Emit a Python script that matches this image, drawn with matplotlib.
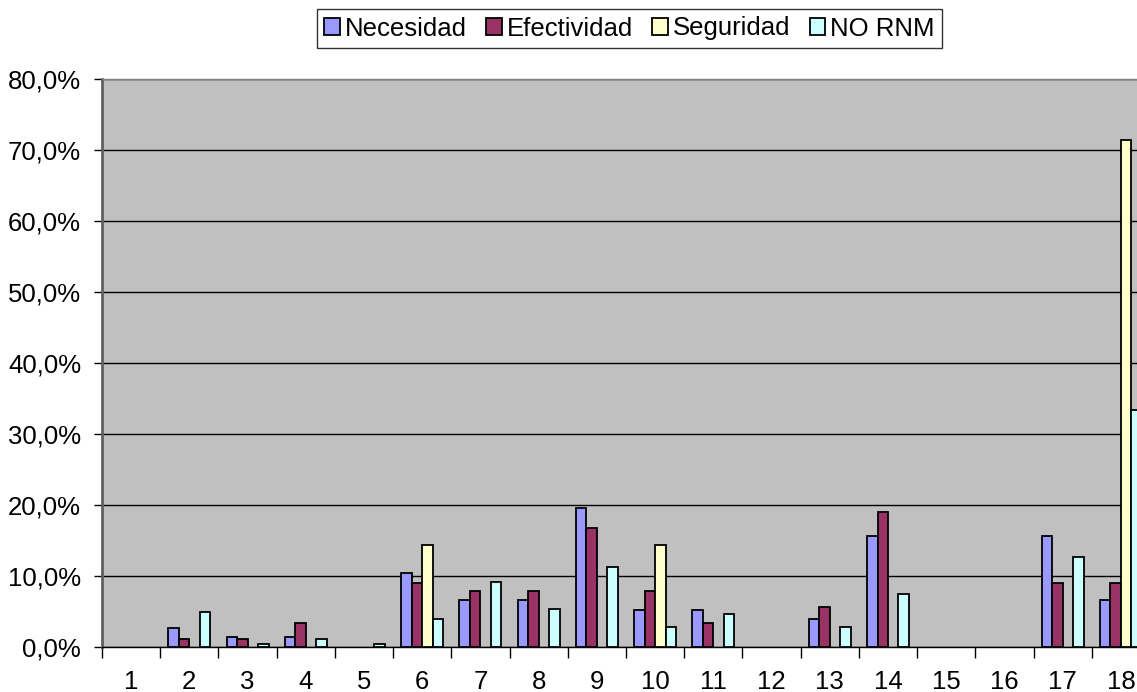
import matplotlib
matplotlib.use("Agg")
import matplotlib.pyplot as plt
import numpy as np
from matplotlib.ticker import FuncFormatter, FixedLocator

plt.rcParams['font.family'] = ['Liberation Sans', 'DejaVu Sans']

categories = [str(i) for i in range(1, 19)]
necesidad =   [0.0, 2.6, 1.3, 1.3, 0.0, 10.4, 6.5, 6.5, 19.5, 5.2, 5.2, 0.0, 3.9, 15.6, 0.0, 0.0, 15.6, 6.5]
efectividad = [0.0, 1.1, 1.1, 3.3, 0.0, 8.9, 7.8, 7.8, 16.7, 7.8, 3.3, 0.0, 5.6, 18.9, 0.0, 0.0, 8.9, 8.9]
seguridad =   [0.0, 0.0, 0.0, 0.0, 0.0, 14.3, 0.0, 0.0, 0.0, 14.3, 0.0, 0.0, 0.0, 0.0, 0.0, 0.0, 0.0, 71.4]
no_rnm =      [0.0, 4.9, 0.35, 1.1, 0.35, 3.9, 9.1, 5.3, 11.2, 2.8, 4.6, 0.0, 2.8, 7.4, 0.0, 0.0, 12.6, 33.3]

series_names = ['Necesidad', 'Efectividad', 'Seguridad', 'NO RNM']
series_vals = [necesidad, efectividad, seguridad, no_rnm]
colors = ['#9999FF', '#993366', '#FFFFCC', '#CCFFFF']

W, H = 1137, 692
fig = plt.figure(figsize=(W / 100, H / 100), dpi=100)
fig.patch.set_facecolor('white')
left, right, bottom, top = 102, 1150, 646.5, 79
ax = fig.add_axes([left / W, 1 - bottom / H, (right - left) / W, (bottom - top) / H])
ax.set_facecolor('#C0C0C0')

x = np.arange(len(categories))
bw = 0.18
for i, (name, vals, c) in enumerate(zip(series_names, series_vals, colors)):
    v = np.array(vals)
    mask = v > 0
    ax.bar(x[mask] + (i - 1.5) * bw, v[mask], width=bw, color=c, edgecolor='black',
           linewidth=1.3, label=name, zorder=3)

ax.set_xlim(-0.5, len(categories) - 0.5)
ax.set_ylim(0, 80)
ax.yaxis.set_major_locator(FixedLocator(np.arange(0, 81, 10)))
ax.yaxis.set_major_formatter(FuncFormatter(lambda v, p: f"{v:.1f}%".replace('.', ',')))
ax.yaxis.grid(True, color='black', linewidth=1.0, zorder=1)
ax.set_axisbelow(True)

ax.set_xticks(x)
ax.set_xticklabels(categories)
ax.set_xticks(np.arange(-0.5, len(categories), 1), minor=True)
ax.tick_params(axis='x', which='major', length=0, labelsize=18.5, pad=17)
ax.tick_params(axis='x', which='minor', length=8, width=1, color='black')
ax.tick_params(axis='y', which='major', length=6, width=1, labelsize=18.5, pad=9)

for s in ['top', 'right']:
    ax.spines[s].set_color('#808080')
    ax.spines[s].set_linewidth(1.0)
ax.spines['left'].set_color('#606060')
ax.spines['left'].set_linewidth(2.0)
ax.spines['bottom'].set_color('black')
ax.spines['bottom'].set_linewidth(1.0)

handles, labels = ax.get_legend_handles_labels()
leg = fig.legend(handles, labels, loc='center', ncol=4,
                 bbox_to_anchor=(629.5 / W, 1 - 28.5 / H),
                 fontsize=18.5, frameon=True, fancybox=False, shadow=False,
                 handlelength=0.6, handleheight=0.6, handletextpad=0.2,
                 columnspacing=0.75, borderpad=0.3, borderaxespad=0)
leg.get_frame().set_edgecolor('black')
leg.get_frame().set_linewidth(1.0)

fig.savefig('out.png', dpi=100)
